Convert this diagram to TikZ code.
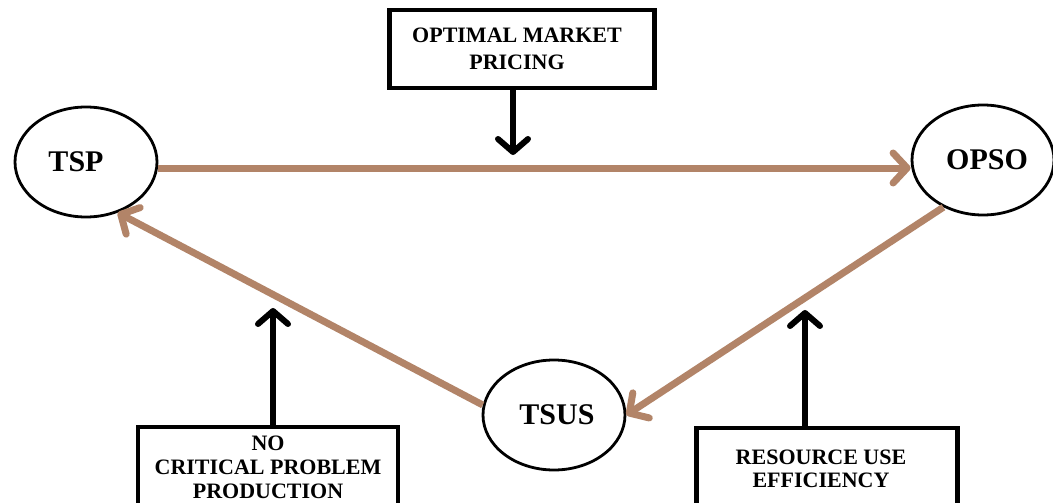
\documentclass[tikz,border=0pt]{standalone}
\usepackage{fontspec}
\setmainfont{Liberation Serif}
\usetikzlibrary{arrows.meta,shapes.geometric}
\definecolor{brn}{RGB}{178,132,104}
\begin{document}
\begin{tikzpicture}[x=1pt,y=-1pt,
  ell/.style={ellipse,draw=black,line width=2.8pt,minimum width=142pt,minimum height=110pt,inner sep=0pt,font=\fontsize{30}{30}\selectfont\bfseries},
  lbox/.style={draw=black,line width=4.5pt,inner sep=0pt,fill=white,font=\fontsize{22}{25}\selectfont\bfseries,align=center},
  brnarr/.style={draw=brn,line width=7pt,-{Straight Barb[length=14pt,width=30pt,line width=7pt,round]}},
  blkarr/.style={draw=black,line width=6pt,-{Straight Barb[length=13pt,width=30pt,line width=6pt,round]}}]
\clip (0,0) rectangle (1053,503);
\fill[white] (0,0) rectangle (1053,503);
% ellipses
\node[ell] (tsp) at (86,162) {\hspace*{-20pt}TSP};
\node[ell] (opso) at (983,160) {\hspace*{8pt}OPSO};
\node[ell] (tsus) at (554,415) {\hspace*{6pt}TSUS};
% boxes
\node[lbox,minimum width=265pt,minimum height=78pt,font=\fontsize{22}{27}\selectfont\bfseries] (omp) at (522,49) {\hspace*{-10pt}OPTIMAL MARKET\\\hspace*{-10pt}PRICING};
\node[lbox,minimum width=260pt,minimum height=80pt,font=\fontsize{22}{24}\selectfont\bfseries] (ncp) at (268,467) {NO\\CRITICAL PROBLEM\\PRODUCTION};
\node[lbox,minimum width=261pt,minimum height=82pt,font=\fontsize{22}{23}\selectfont\bfseries] (rue) at (827,469) {\hspace*{-12pt}RESOURCE USE\\[-0.5pt]\hspace*{-12pt}EFFICIENCY};
% brown connectors
\draw[brnarr] ([yshift=-6pt]tsp.east) -- ([yshift=-6pt]tsp.east -| opso.west);
\draw[brnarr] (opso.230) -- (tsus.east);
\draw[brnarr] (tsus.172) -- (tsp.302);
% black arrows
\coordinate (pt) at (513,155);
\coordinate (lt) at (273,308);
\coordinate (rt) at (805,310);
\draw[blkarr] (omp.south -| pt) -- (pt);
\draw[blkarr] (ncp.north -| lt) -- (lt);
\draw[blkarr] (rue.north -| rt) -- (rt);
\end{tikzpicture}
\end{document}
